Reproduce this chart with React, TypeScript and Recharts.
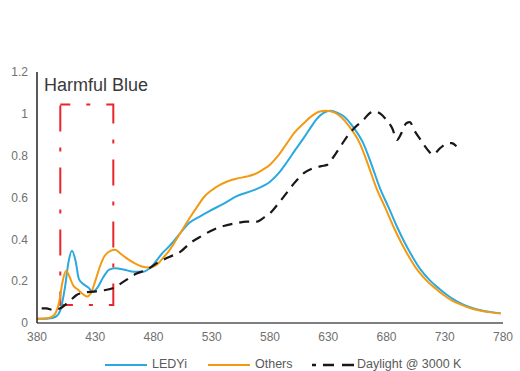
import React from 'react';
import { LineChart, Line, XAxis, YAxis, ReferenceArea } from 'recharts';

// wavelengths (nm) and relative intensity per series
const ledyiNm = [380, 390, 396, 400, 404, 407, 410, 413, 416, 420, 424, 428, 432, 437, 442, 447, 455, 463, 471, 480, 487, 494, 503, 511, 520, 528, 540, 551, 566, 580, 588, 594, 602, 609, 615, 620, 626, 632, 638, 643, 651, 660, 667, 674, 682, 689, 696, 703, 710, 717, 725, 732, 740, 746, 753, 760, 770, 778];
const ledyiVal = [0.02, 0.022, 0.03, 0.06, 0.17, 0.29, 0.345, 0.3, 0.21, 0.185, 0.17, 0.15, 0.17, 0.22, 0.255, 0.262, 0.255, 0.245, 0.245, 0.28, 0.33, 0.37, 0.43, 0.48, 0.51, 0.535, 0.57, 0.605, 0.635, 0.675, 0.72, 0.765, 0.83, 0.885, 0.935, 0.975, 1.005, 1.015, 1.005, 0.99, 0.94, 0.86, 0.76, 0.65, 0.55, 0.46, 0.38, 0.31, 0.25, 0.205, 0.165, 0.134, 0.105, 0.088, 0.073, 0.062, 0.052, 0.046];

const othersNm = [380, 390, 395, 399, 402, 405, 408, 411, 415, 419, 423, 426, 430, 434, 438, 443, 447, 452, 458, 464, 470, 476, 482, 488, 494, 503, 512, 518, 523, 530, 537, 545, 551, 560, 566, 573, 580, 587, 594, 601, 609, 616, 622, 628, 636, 641, 648, 657, 664, 671, 679, 686, 693, 700, 707, 714, 722, 729, 737, 744, 751, 758, 768, 778];
const othersVal = [0.02, 0.024, 0.04, 0.1, 0.2, 0.25, 0.22, 0.18, 0.16, 0.14, 0.127, 0.14, 0.2, 0.27, 0.32, 0.345, 0.35, 0.33, 0.305, 0.285, 0.27, 0.265, 0.275, 0.31, 0.35, 0.43, 0.51, 0.56, 0.6, 0.635, 0.66, 0.68, 0.69, 0.7, 0.71, 0.73, 0.757, 0.8, 0.855, 0.91, 0.955, 0.99, 1.01, 1.015, 1.005, 0.985, 0.94, 0.86, 0.76, 0.65, 0.55, 0.46, 0.38, 0.31, 0.25, 0.205, 0.165, 0.134, 0.105, 0.088, 0.073, 0.062, 0.052, 0.045];

const daylightNm = [384, 388, 394, 400, 404, 409, 414, 420, 428, 436, 445, 455, 465, 474, 484, 494, 503, 511, 521, 531, 541, 551, 560, 569, 575, 580, 587, 594, 601, 609, 617, 624, 629, 634, 640, 646, 652, 660, 666, 670, 675, 680, 685, 689, 693, 697, 700, 704, 710, 715, 720, 726, 732, 736, 740];
const daylightVal = [0.07, 0.07, 0.062, 0.07, 0.086, 0.11, 0.134, 0.145, 0.15, 0.155, 0.166, 0.2, 0.235, 0.254, 0.29, 0.317, 0.34, 0.38, 0.415, 0.445, 0.465, 0.477, 0.485, 0.485, 0.505, 0.525, 0.57, 0.62, 0.67, 0.716, 0.74, 0.75, 0.756, 0.79, 0.84, 0.89, 0.93, 0.97, 1.005, 1.012, 1.0, 0.97, 0.93, 0.875, 0.91, 0.955, 0.96, 0.92, 0.87, 0.83, 0.805, 0.836, 0.858, 0.86, 0.845];

const xTicks = [380, 430, 480, 530, 580, 630, 680, 730, 780];
const yTicks = [0, 0.2, 0.4, 0.6, 0.8, 1, 1.2];

// harmful blue band
const blueBand = { x1: 400, x2: 445.5, y1: 0.086, y2: 1.045 };

const toRows = (nm: number[], val: number[]) => nm.map((x, i) => ({ nm: x, v: val[i] }));

const series = [
  { name: 'LEDYi', color: '#29a9e0', dash: undefined, data: toRows(ledyiNm, ledyiVal) },
  { name: 'Others', color: '#f39a12', dash: undefined, data: toRows(othersNm, othersVal) },
  { name: 'Daylight @ 3000 K', color: '#1c1616', dash: '10 7', data: toRows(daylightNm, daylightVal) },
];

const FONT = '"Liberation Sans", Arial, sans-serif';

// legend drawn by hand to match the original spacing
const legendPos = [
  { line: 105, text: 152 },
  { line: 208, text: 255 },
  { line: 312, text: 357 },
];

const App: React.FC = () => {
  return (
    <div style={{ position: 'absolute', left: 0, top: 0, width: 520, height: 371, background: '#fff', fontFamily: FONT }}>
      <LineChart width={520} height={371} margin={{ top: 72, right: 17, bottom: 28, left: 7 }}>
        <XAxis
          type="number"
          dataKey="nm"
          domain={[380, 780]}
          ticks={xTicks}
          allowDuplicatedCategory={false}
          tickLine={false}
          tickSize={0}
          tickMargin={9}
          height={20}
          stroke="#555"
          strokeWidth={1.5}
          tick={{ fill: '#707070', fontSize: 12, fontFamily: FONT }}
        />
        <YAxis
          type="number"
          domain={[0, 1.2]}
          ticks={yTicks}
          tickLine={false}
          tickSize={0}
          tickMargin={9}
          width={30}
          stroke="#222"
          strokeWidth={1.5}
          tick={{ fill: '#707070', fontSize: 12, fontFamily: FONT }}
        />
        <ReferenceArea
          x1={blueBand.x1}
          x2={blueBand.x2}
          y1={blueBand.y1}
          y2={blueBand.y2}
          fill="none"
          fillOpacity={0}
          stroke="#e8262b"
          strokeWidth={2}
          strokeDasharray="26 16 4 16"
          strokeDashoffset={16}
        />
        {series.map((s) => (
          <Line
            key={s.name}
            data={s.data}
            dataKey="v"
            name={s.name}
            type="monotone"
            stroke={s.color}
            strokeWidth={s.dash ? 2.2 : 2}
            strokeDasharray={s.dash}
            dot={false}
            activeDot={false}
            isAnimationActive={false}
          />
        ))}
      </LineChart>

      <div style={{ position: 'absolute', left: 44, top: 75, fontSize: 18, color: '#3a3a3a', fontFamily: FONT }}>
        Harmful Blue
      </div>

      {series.map((s, i) => (
        <React.Fragment key={s.name}>
          <svg style={{ position: 'absolute', left: legendPos[i].line, top: 360 }} width={42} height={10}>
            <line
              x1={0}
              y1={5}
              x2={42}
              y2={5}
              stroke={s.color}
              strokeWidth={s.dash ? 2.5 : 2}
              strokeDasharray={s.dash ? '4 7 11 8 12' : undefined}
            />
          </svg>
          <div style={{ position: 'absolute', left: legendPos[i].text, top: 357, fontSize: 12.5, color: '#5a5a5a', fontFamily: FONT, whiteSpace: 'nowrap' }}>
            {s.name}
          </div>
        </React.Fragment>
      ))}
    </div>
  );
};

export default App;
